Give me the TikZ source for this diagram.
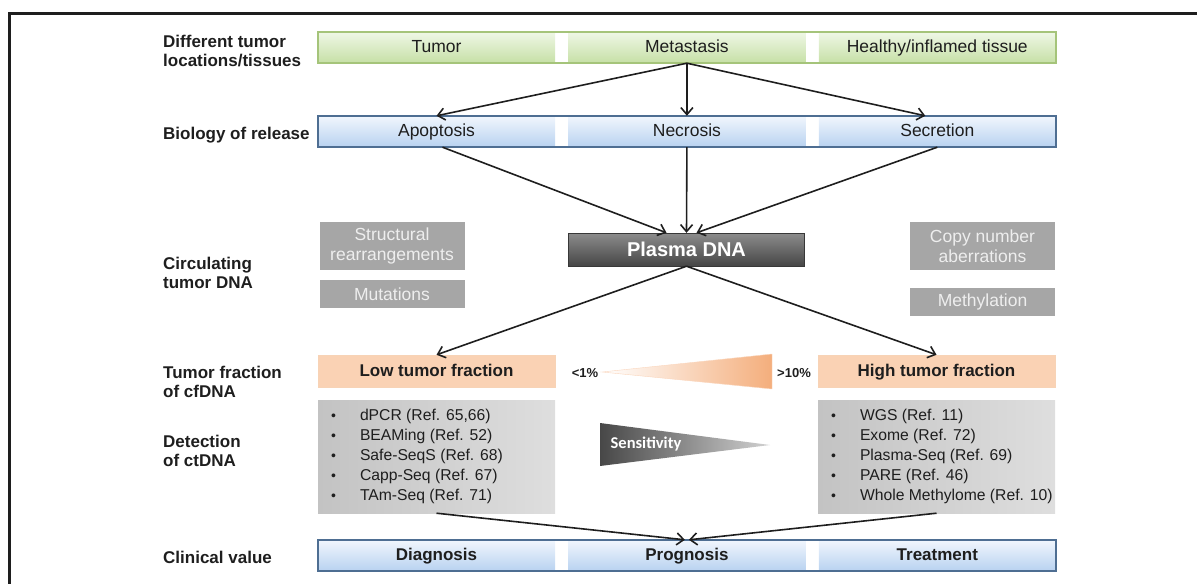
\documentclass[tikz,border=0pt]{standalone}
\usepackage{fontspec}
\setmainfont{Liberation Sans}
\newfontfamily\sensfont{Carlito}
\usetikzlibrary{positioning,arrows.meta,fit}
\definecolor{greenline}{HTML}{A5C47A}
\definecolor{greentop}{HTML}{EFF7E6}
\definecolor{greenbot}{HTML}{C6E0A6}
\definecolor{blueline}{HTML}{4E6E92}
\definecolor{bluetop}{HTML}{F1F6FD}
\definecolor{bluebot}{HTML}{B8D2F0}
\definecolor{orangeedge}{HTML}{FAD2B4}
\definecolor{orangemid}{HTML}{FDEFE5}
\definecolor{orangeline}{HTML}{F7D3B6}
\definecolor{orangetri}{HTML}{F4AE7C}
\definecolor{markgray}{HTML}{A6A6A6}
\definecolor{marktext}{HTML}{EEEEEE}
\definecolor{plasmatop}{HTML}{8C8C8C}
\definecolor{plasmabot}{HTML}{464646}
\definecolor{detleft}{HTML}{C3C3C3}
\definecolor{detright}{HTML}{DEDEDE}
\definecolor{ink}{HTML}{1E1E1E}
\newcommand\itm{\makebox[29pt][l]{\fontsize{14}{14}\selectfont\textbullet}}

\begin{document}
\begin{tikzpicture}[x=1pt, y=-1pt, node distance=13pt, >={Straight Barb[length=7pt,width=12pt]},
  lbl/.style={anchor=west, align=left, inner sep=0pt, text=ink, font=\fontsize{17}{19.5}\selectfont\bfseries},
  cell/.style={minimum width=237pt, minimum height=31pt, inner sep=0pt, text height=13.5pt, text depth=3pt, text=ink, font=\fontsize{17.5}{19}\selectfont},
  greencell/.style={cell, top color=greentop, bottom color=greenbot},
  bluecell/.style={cell, top color=bluetop, bottom color=bluebot},
  clinic/.style={bluecell, font=\fontsize{17}{19}\selectfont\bfseries},
  fraction/.style={cell, minimum height=32pt, draw=orangeline, top color=orangeedge, middle color=orangemid, bottom color=orangeedge, font=\fontsize{17}{19}\selectfont\bfseries},
  markbox/.style={fill=markgray, text=marktext, minimum width=145pt, align=center, inner sep=0pt, font=\fontsize{17.5}{20}\selectfont},
  detbox/.style={minimum width=237pt, minimum height=113pt, left color=detleft, right color=detright},
  detlist/.style={align=left, inner sep=0pt, text=ink, font=\fontsize{15.7}{20}\selectfont},
  pct/.style={text=ink, inner sep=0pt, font=\fontsize{13}{14}\selectfont\bfseries},
  arrow/.style={->, line width=1.6pt, ink}]
  \useasboundingbox (0,0) rectangle (1197,584);
  \draw[line width=3pt, ink] (1197,13) -- (9,13) -- (9,584);

  \node[lbl] (sitelbl) at (163,51) {Different tumor\\locations/tissues};
  \node[lbl] (releaselbl) at (163,135) {Biology of release};
  \node[lbl] (ctdnalbl) at (163,273) {Circulating\\tumor DNA};
  \node[lbl] (fractionlbl) at (163,382) {Tumor fraction\\of cfDNA};
  \node[lbl] (detectlbl) at (163,451) {Detection\\of ctDNA};
  \node[lbl] (clinlbl) at (163,557) {Clinical value};

  \node[greencell] (tumor) at (436.5,47.5) {Tumor};
  \node[greencell, right=of tumor] (metastasis) {Metastasis};
  \node[greencell, right=of metastasis] (healthy) {Healthy/inflamed tissue};
  \node[fit=(tumor)(healthy), inner sep=0pt, draw=greenline, line width=1.5pt] (sites) {};

  \node[bluecell] (apoptosis) at (436.5,131.5) {Apoptosis};
  \node[bluecell, right=of apoptosis] (necrosis) {Necrosis};
  \node[bluecell, right=of necrosis] (secretion) {Secretion};
  \node[fit=(apoptosis)(secretion), inner sep=0pt, draw=blueline, line width=1.8pt] (release) {};

  \node[markbox, minimum height=48pt] (structural) at (392,246) {Structural\\rearrangements};
  \node[markbox, minimum height=28pt] (mutations) at (392,294) {Mutations};
  \node[markbox, minimum height=48pt] (copynumber) at (982.5,246) {Copy number\\aberrations};
  \node[markbox, minimum height=28pt] (methylation) at (982.5,302) {Methylation};
  \node[minimum width=236pt, minimum height=33pt, draw=plasmabot!80!black, top color=plasmatop, bottom color=plasmabot, text=white, font=\fontsize{20}{22}\selectfont\bfseries] (plasma) at (686.5,249.5) {Plasma DNA};

  \node[fraction] (low) at (436.5,371) {Low tumor fraction};
  \node[fraction] (high) at (936.5,371) {High tumor fraction};
  \shadedraw[draw=orangetri!50, left color=white, right color=orangetri] (602,372) -- (772,354) -- (772,389) -- cycle;
  \node[pct] (lowpct) at (585,373) {<1\%};
  \node[pct] (highpct) at (794,373) {>10\%};

  \node[detbox] (lowdet) at (436.5,456.5) {};
  \node[detlist, right=13pt of lowdet.west] (lowlist) {\itm dPCR (Ref. 65,66)\\\itm BEAMing (Ref. 52)\\\itm Safe-SeqS (Ref. 68)\\\itm Capp-Seq (Ref. 67)\\\itm TAm-Seq (Ref. 71)};
  \node[detbox] (highdet) at (936.5,456.5) {};
  \node[detlist, right=13pt of highdet.west] (highlist) {\itm WGS (Ref. 11)\\\itm Exome (Ref. 72)\\\itm Plasma-Seq (Ref. 69)\\\itm PARE (Ref. 46)\\\itm Whole Methylome (Ref. 10)};
  \shade[left color=black!72, right color=black!18] (600,423) -- (770,445) -- (600,466) -- cycle;
  \node[text=white, inner sep=0pt, font=\sensfont\fontsize{16.5}{18}\selectfont\bfseries] (sensitivity) at (646,444) {Sensitivity};

  \node[clinic] (diagnosis) at (436.5,555.5) {Diagnosis};
  \node[clinic, right=of diagnosis] (prognosis) {Prognosis};
  \node[clinic, right=of prognosis] (treatment) {Treatment};
  \node[fit=(diagnosis)(treatment), inner sep=0pt, draw=blueline, line width=1.8pt] (clinical) {};

  \draw[arrow] (metastasis.south) -- (apoptosis.north);
  \draw[arrow] (metastasis.south) -- (necrosis.north);
  \draw[arrow] (metastasis.south) -- ([xshift=-12pt]secretion.north);
  \draw[arrow] ([xshift=6pt]apoptosis.south) -- ([xshift=-20pt]plasma.north);
  \draw[arrow] (necrosis.south) -- (plasma.north);
  \draw[arrow] (secretion.south) -- ([xshift=10pt]plasma.north);
  \draw[arrow] (plasma.south) -- (low.north);
  \draw[arrow] (plasma.south) -- (high.north);
  \draw[arrow] (lowdet.south) -- ([xshift=-2pt]prognosis.north);
  \draw[arrow] (highdet.south) -- ([xshift=2pt]prognosis.north);
\end{tikzpicture}
\end{document}
